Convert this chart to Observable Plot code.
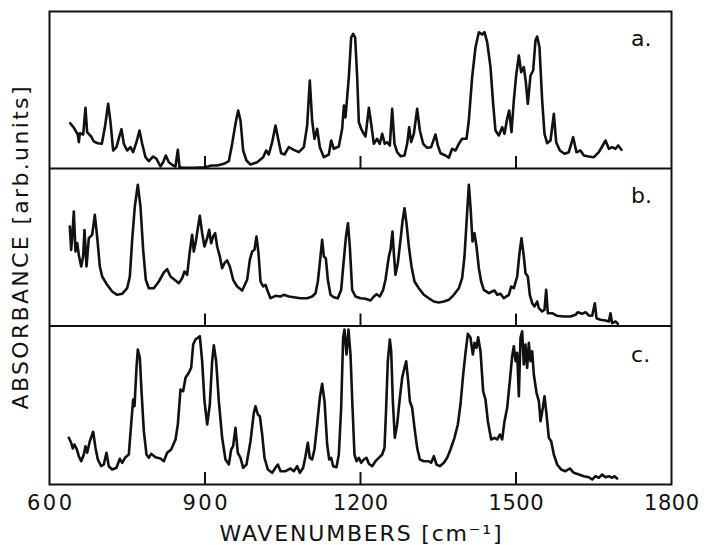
<!DOCTYPE html>
<html><head><meta charset="utf-8">
<script src="https://cdn.jsdelivr.net/npm/d3@7"></script>
<script src="https://cdn.jsdelivr.net/npm/@observablehq/plot@0.6"></script>
<style>
body{margin:0;background:#fff}
</style>
</head><body><div id="chart"></div>
<script>
// Panel names and baselines (arb. units, stacked top to bottom)
const panels = ["a.", "b.", "c."];
const baselines = [316, 158.5, 0];
const tickValues = [600, 900, 1200, 1500, 1800];
const innerTicks = [900, 1200, 1500];
const xLabel = "WAVENUMBERS [cm\u207B\u00B9]";
const yLabel = "ABSORBANCE [arb.units]";

// Spectrum a
const waveA = [640,647,654.6,656.6,658.5,665,669.4,672.6,680.4,685.5,693.2,701,707.4,713.2,717.7,722.8,729.2,734.4,738.9,743.4,749.8,756.2,761.4,767.8,773.6,778.8,785.2,791.6,800,806.4,814.1,819.3,824.4,830.2,838.6,843,847.6,850.8,859,878.4,897.7,905.5,912.5,923.5,936.3,946,952.4,958.8,964,968.5,973.6,980,987.8,1000.6,1012.2,1018,1023.1,1029.6,1036,1041.1,1046.9,1053.4,1061.7,1071.4,1081,1090.7,1097.1,1102.2,1106.7,1111.2,1116.4,1121.5,1129.3,1138.9,1143.4,1148.5,1158.2,1164.6,1168,1171,1177.5,1182,1185.8,1189.7,1193.6,1196.8,1201.3,1206.4,1209.6,1216.1,1220.6,1225.7,1232.1,1237.3,1241.8,1246.9,1251.4,1256.6,1261.1,1265.6,1270.7,1277.2,1284.9,1290,1293.9,1297.7,1302.9,1309.3,1314.5,1320.9,1328.6,1336.3,1344.7,1349.2,1354.3,1364,1370.4,1376.8,1383.3,1389.7,1396.1,1404.5,1409,1415.4,1421.9,1428.3,1434.7,1439.2,1444.4,1450.8,1455.9,1460.4,1466.9,1473.3,1477.8,1482.9,1486.8,1491.3,1495.8,1500.3,1505.5,1510,1515.1,1519,1522.8,1528,1533.1,1537.6,1540.8,1545.3,1550.5,1555,1560.1,1566.6,1573,1577.5,1584.6,1593.6,1601.9,1610.3,1616.7,1624.4,1630.9,1640.5,1650.2,1659.8,1666.2,1672.7,1679.1,1685.5,1692,1697.1,1703.5];
const absA = [45.3,40.7,34,26.3,35.3,34,60.7,36.3,32,27,25.3,24.7,43,64.7,46.3,18,21.3,31.3,39.3,24.7,18,21.3,16.3,26.3,38,24.7,11.3,7.3,12,9.7,2,6.3,13,6.3,3,2,18.7,1.3,0.7,0.7,1.3,2,3,3,4.7,7.3,24.7,44.7,58,48,18,8,4,6.3,11.3,18,14,26.3,43,29.7,15.3,14,21.3,18.7,16.3,21.3,43,88,48,29.7,39.7,21.3,11.3,14,28,19.7,22,39.7,63,51,91.3,131,134.7,131,91.3,46.3,39.7,34.7,32,60.7,44.7,24.7,29.7,24.7,34.7,24.7,26.3,23,59.7,24.7,16.3,12.3,13,24.7,41.3,26.3,34.7,59.7,38,24.7,20.7,21.3,34,23,15.3,13,10.7,19.7,18,24.7,29.7,29.7,48,91.3,121.3,136.3,134,136.3,126.3,101.3,64.7,38,33,41.3,34.7,49.7,58,36.3,68,93,113,96.3,101.3,86.3,64.7,93,98,128,132,121.3,68,34.7,25.3,28,54.7,26.3,18,14.7,16.3,31.3,16.3,18,13,12,11.3,16.3,22,28,19.7,21.3,19.7,23,18.7];

// Spectrum b
const waveB = [639.2,641.8,644.4,646.9,650.1,653.4,656.6,661.1,664.9,667.5,671.4,675.9,682.3,687.4,691.9,697.1,701.6,711.2,720.9,730.5,740.2,749.8,755,759.5,764.6,770.4,775.5,780.7,785.8,791.6,801.3,810.9,820.6,827,833.4,843.1,849.5,855.9,860.4,865.6,870.7,875.2,878.4,882.3,886.2,890,894.5,899,904.2,908,911.9,915.7,919.6,923.5,928.6,933.1,937.6,942.7,947.9,954.3,962,971.7,981.3,986.5,991,995.5,999.3,1003.2,1007.1,1012.2,1016.7,1021.2,1026.4,1036,1045.7,1052.1,1061.7,1071.4,1084.2,1097.1,1106.7,1113.2,1117.7,1121.5,1126,1129.3,1133.1,1137,1142.1,1148.5,1156.3,1162.7,1167.8,1172,1175.8,1179.4,1183.9,1190.3,1200,1209.6,1219.3,1225.7,1230.9,1237.3,1243.7,1248.2,1254.7,1257.9,1261.7,1264.3,1267.5,1272,1277.2,1281,1284.9,1288.7,1293.3,1298.4,1304.2,1312.5,1322.2,1331.8,1341.5,1351.1,1360.8,1370.4,1380.1,1389.7,1396.1,1400.6,1404.5,1409,1412.2,1416.1,1419.9,1423.8,1428.3,1432.8,1437.9,1447.6,1454,1458.5,1463.7,1470.1,1476.5,1486.2,1490.7,1495.8,1502.3,1506.7,1510.6,1515.1,1518.3,1522.8,1526.7,1531.2,1535.7,1540.8,1544.1,1550.5,1555,1558.2,1561.4,1569.8,1579.4,1592.3,1605.1,1614.8,1619.3,1627.6,1634.1,1640.5,1647,1652.1,1655.3,1663,1672.7,1679.1,1682.3,1685.5,1692,1696.5];
const absB = [99.5,76,92.8,114.5,74.5,83,71,59.5,69.5,96,59.5,87.8,91.2,111.2,89.5,59.5,49.5,41.2,34.5,31.2,32.2,37.8,49.5,86.2,119.5,141.2,119.5,76.2,46.2,37.8,37.8,44.5,53.5,56.8,49.5,45.5,42.8,47.8,54.5,51.2,74.5,91.2,74.5,84.5,97.8,110.2,92.8,79.5,87.8,96.2,82.8,89.5,92.8,79.5,69.5,57.8,62.8,65.5,59.5,46.2,39.5,35.5,46.2,66.2,74.5,76.2,89.5,72.8,44.5,39.5,41.2,34.5,27.8,30.2,29.5,31.2,29.5,28.8,27.8,27.8,29.5,32.8,44.5,62.8,86.2,69.5,67.8,46.2,31.2,28.8,27.8,36.2,66.2,89.5,102.8,79.5,36.2,29.5,27.8,27.2,25.5,29.5,31.8,29.5,36.2,46.2,69.5,76.2,94.5,72.8,51.2,62.8,86.2,104.5,117.8,102.8,79.5,59.5,44.5,37.8,31.2,27.8,24.5,23.5,24.5,26.2,31.2,37.8,47.8,69.5,102.8,141.2,119.5,84.5,92.8,79.5,57.8,44.5,36.2,32.8,34.5,35.5,31.2,32.2,27.8,31.2,39.5,37.8,49.5,72.8,87.8,69.5,52.8,49.5,31.2,22.8,19.5,24.5,17.8,14.5,16.2,36.2,12.8,12.8,10.2,9.5,9.5,11.2,13.8,12.2,13.8,10.5,10.2,22.8,7.8,6.2,5.5,4.5,12.8,2.8,4.5,2.2];

// Spectrum c
const waveC = [637.3,641.8,645,648.2,652.1,656.6,661.1,666.2,669.4,672.6,677.8,684.2,688.7,693.2,699.7,704.8,709.9,714.4,720.9,729.2,735.7,740.2,746.6,753,757.5,761.4,764,767.8,770.4,774.3,777.5,782,787.1,791.6,796.1,804.5,814.1,820.6,827,834.7,843.1,847.6,852.7,857.9,862.4,868.8,873.3,877.2,881.7,886.2,890,894.5,899,904.2,909.3,913.8,917,921.5,926.7,933.1,939.5,946,950.5,954.3,958.8,963.3,968.5,973.6,980,987.8,994.2,997.4,1001.9,1005.8,1010.3,1014.8,1021.2,1029.6,1036,1040.5,1045.7,1055.3,1065,1071.4,1077.8,1083,1089.4,1093.9,1098.4,1102.2,1106.7,1111.2,1116.4,1121.5,1126,1130.6,1135.7,1139.6,1143.4,1147.3,1153.7,1158.2,1162.7,1166.5,1169.1,1173,1176.8,1180.7,1184.6,1188.4,1192.3,1196.8,1201.3,1206.4,1211.6,1216.1,1222.5,1228.9,1235.4,1241.8,1246.3,1249.5,1252.7,1256.6,1259.2,1262.4,1266.2,1270.7,1275.9,1280.4,1284.9,1288.1,1292,1295.2,1299.7,1304.2,1309.3,1314.5,1322.2,1331.8,1336.3,1341.5,1346.6,1353,1360.8,1367.2,1373.6,1381.3,1387.8,1392.9,1398.1,1402.6,1407.1,1412.2,1416.7,1420,1423.8,1427,1431.5,1436.6,1441.1,1445.7,1452.1,1458.5,1463.7,1468.8,1473.3,1477.8,1483,1488.1,1492.6,1495.8,1499.1,1502.3,1505.5,1508.7,1511.9,1515.1,1518.3,1521.5,1524.8,1528,1531.2,1534.4,1539.6,1544.1,1547.3,1551.8,1555,1558.9,1563.3,1567.9,1573,1579.4,1587.1,1595.5,1603.9,1611.6,1621.2,1630.9,1640.5,1647,1653.4,1659.8,1666.2,1672.7,1679.1,1685.5,1690,1695.1];
const absC = [46.7,41.7,36,40,36,28.3,23.3,30,38.3,31.7,43.3,52.7,36.7,25,18.3,20,31.7,18.3,15,16.7,25.7,21.7,27.3,30,60,85,78.3,116.7,135,126.7,93.3,53.3,30,26.7,30.7,27.3,26,23.3,31.7,35,45,60,95,93.3,106.7,111.7,116.7,140,145,146.7,148.3,123.3,83.3,60,80,123.3,139.3,123.3,83.3,46.7,25,20,35,38.3,56.7,31.7,26.7,16.7,20,43.3,71.7,78.3,70,68.3,50,26.7,15,11.7,16.7,20,13.3,13.3,16,13.3,18.3,11.7,16.7,28.3,41.7,26.7,25,35,60,86.7,100.7,83.3,40,25,26.7,18.3,17.3,30,76.7,146.7,155,130,155,130,76.7,30,23.3,26.7,21.7,25,26.7,20.7,18.3,23.3,26.7,30,36.7,76.7,123.3,145,133.3,83.3,46.7,60,86.7,106.7,116.7,123.3,103.3,83.3,76.7,56.7,36.7,25,23.3,23.3,21.7,28.3,20,18.3,21.7,26.7,35,46.7,60,80,110,131.7,150.7,146.7,130,141.7,136.7,147.3,133.3,93.3,85,63.3,45,46.7,45,50,45,63.3,76.7,103.3,128.3,138.3,123.3,131.7,88.3,146.7,153.3,120,140,116.7,141.7,123.3,133.3,110,91.7,83.3,63.3,76.7,88.3,70,46.7,43.3,30,20,15,13.3,16,11.7,10,8.3,7.3,5,8.3,6.7,10,7.3,8.3,6.7,8.3,6];

const series = [[waveA, absA], [waveB, absB], [waveC, absC]];
const rows = series.flatMap(([w, a], i) => w.map((x, j) => ({panel: panels[i], w: x, y: baselines[i] + a[j]})));
const tickRows = baselines.flatMap(b => innerTicks.map(t => ({w: t, y1: b, y2: b + 12})));

const plot = Plot.plot({
  width: 706, height: 545,
  marginLeft: 49, marginRight: 35, marginTop: 11, marginBottom: 61,
  x: {domain: [600, 1800]},
  y: {domain: [0, 473], axis: null},
  style: {fontFamily: "DejaVu Sans", fontSize: "21px", color: "#111", background: "#fff"},
  marks: [
    Plot.line(rows, {x: "w", y: "y", z: "panel", stroke: "#111", strokeWidth: 2.6, strokeLinejoin: "round", strokeLinecap: "round"}),
    Plot.ruleY(baselines.slice(0, 2), {stroke: "#111", strokeWidth: 2}),
    Plot.ruleX(tickRows, {x: "w", y1: "y1", y2: "y2", stroke: "#111", strokeWidth: 2}),
    Plot.frame({stroke: "#111", strokeWidth: 2}),
    Plot.axisX({ticks: tickValues, tickSize: 0, tickPadding: 11, tickFormat: d => String(d), fontSize: 21, label: null}),
    Plot.text(panels, {x: () => 1722, y: (d, i) => baselines[i] + 123, text: d => d, textAnchor: "start", lineAnchor: "bottom", fontSize: 22}),
    Plot.text([xLabel], {frameAnchor: "bottom", dy: 41, lineAnchor: "top", textAnchor: "middle", fontSize: 22}),
    Plot.text([yLabel], {frameAnchor: "left", dx: -29, rotate: -90, textAnchor: "middle", lineAnchor: "middle", fontSize: 22})
  ]
});
document.getElementById("chart").appendChild(plot);
// widen the lettering like the reference's geometric typeface
d3.select(plot).selectAll("text").each(function () {
  const t = this.textContent;
  let len = null;
  if (t === xLabel) len = 282;
  else if (t === yLabel) len = 323;
  else if (tickValues.map(String).includes(t)) len = t.length === 3 ? 45 : 55;
  if (len) { this.setAttribute("textLength", len); this.setAttribute("lengthAdjust", "spacing"); }
});
</script>
</body></html>
